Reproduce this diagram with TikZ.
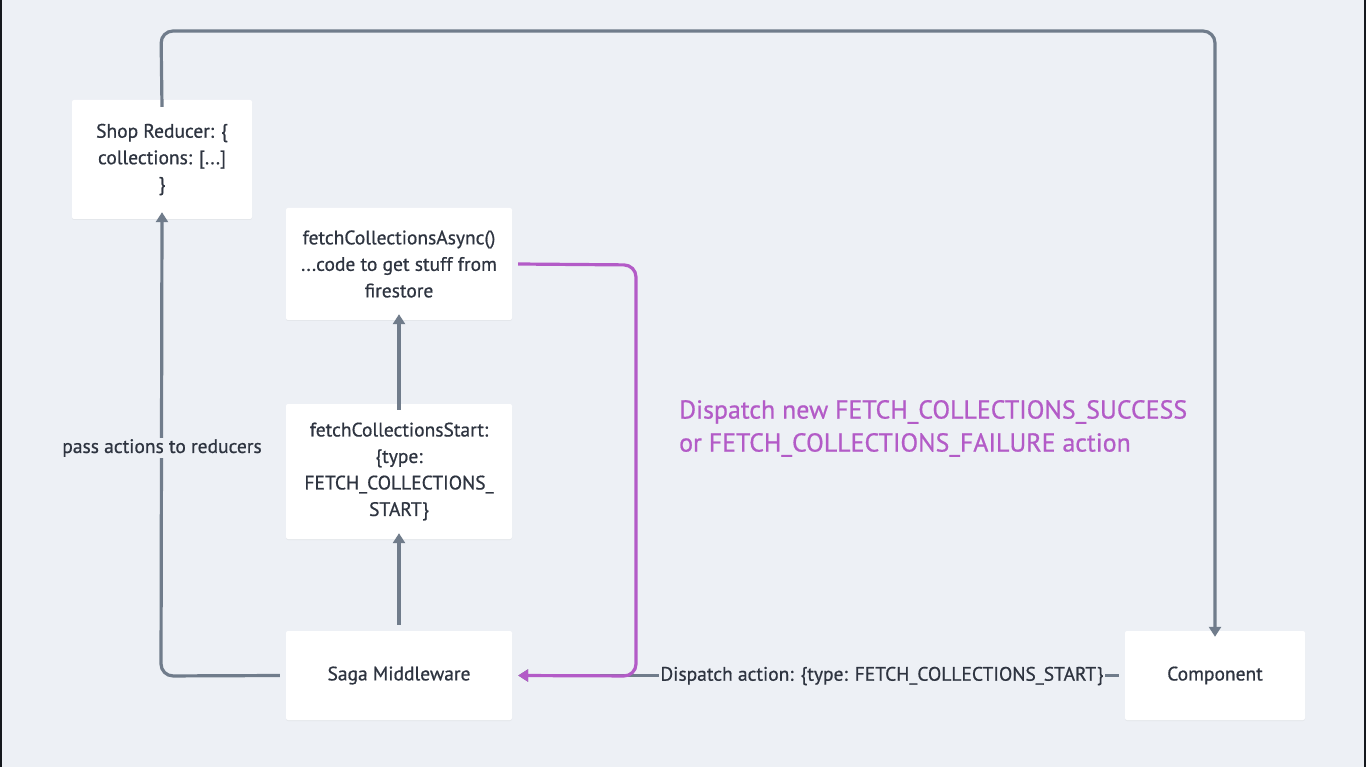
\documentclass[tikz,border=0pt]{standalone}
\usepackage{fontspec}
\setmainfont{PT Sans}[FakeBold=0.7]
\usetikzlibrary{arrows.meta,shadows}
\definecolor{bg}{HTML}{EDF0F5}
\definecolor{ln}{HTML}{707C8B}
\definecolor{tx}{HTML}{2E3440}
\definecolor{pu}{HTML}{B35BC7}
\definecolor{edge}{HTML}{15181D}
\tikzset{
  box/.style={draw=none, fill=white, rounded corners=2pt, inner sep=0pt, align=center,
    text=tx, font=\fontsize{19.5}{26.5}\selectfont,
    drop shadow={shadow xshift=0pt, shadow yshift=-1pt, opacity=0.08}},
  conn/.style={draw=ln, line width=3.2pt, rounded corners=12pt},
  pconn/.style={draw=pu, line width=3.2pt, rounded corners=12pt},
  tip/.style={-{Triangle[length=10pt,width=12pt]}},
  lbl/.style={fill=bg, text=tx, inner sep=1pt, font=\fontsize{19.5}{24}\selectfont},
}
\begin{document}
\begin{tikzpicture}[x=1pt,y=-1pt]
\fill[bg] (0,0) rectangle (1366,767);
\useasboundingbox (0,0) rectangle (1366,767);
\fill[edge] (0,0) rectangle (1.5,767);
\fill[edge] (1363.5,0) rectangle (1366,767);

\node[box, minimum width=180pt, minimum height=119pt] (shop) at (162,159.5) {Shop Reducer: \{\\collections: [...]\\\}};
\node[box, minimum width=226pt, minimum height=112pt] (async) at (399,264) {fetchCollectionsAsync()\\...code to get stuff from\\firestore};
\node[box, minimum width=226pt, minimum height=135pt] (start) at (399,471.5) {fetchCollectionsStart:\\\{type:\\FETCH\_COLLECTIONS\_\\START\}};
\node[box, minimum width=226pt, minimum height=89pt] (saga) at (399,675.5) {Saga Middleware};
\node[box, minimum width=180pt, minimum height=89pt] (comp) at (1215,675.5) {Component};

% top connector: shop reducer -> component
\draw[conn, tip] ([yshift=-7pt]shop.north) -- (161,31) -- (1215,31) -- ([yshift=-6pt]comp.north);

% saga -> shop reducer
\draw[conn, tip] ([xshift=-6pt]saga.west) -- (161,676) -- ([yshift=7pt]shop.south);
\node[lbl] (pass) at (162,448) {pass actions to reducers};

% vertical arrows
\draw[conn, tip] ([yshift=6pt]saga.north) -- ([yshift=6pt]start.south);
\draw[conn, tip] ([yshift=-6pt]start.north) -- ([yshift=6pt]async.south);

% component -> saga (gray)
\draw[conn, tip] ([xshift=-6pt]comp.west) -- ([xshift=6pt]saga.east);
\node[lbl] (disp) at (882,676) {Dispatch action: \{type: FETCH\_COLLECTIONS\_START\}};

% purple return
\draw[pconn, tip] ([xshift=6pt]async.east) -- (636,265) -- (636,676) -- ([xshift=6pt]saga.east);

\node[anchor=west, align=left, text=pu, inner sep=0pt, font=\fontsize{25.9}{33}\selectfont] (succ) at (679,428.5)
  {Dispatch new FETCH\_COLLECTIONS\_SUCCESS\\or FETCH\_COLLECTIONS\_FAILURE action};
\end{tikzpicture}
\end{document}
